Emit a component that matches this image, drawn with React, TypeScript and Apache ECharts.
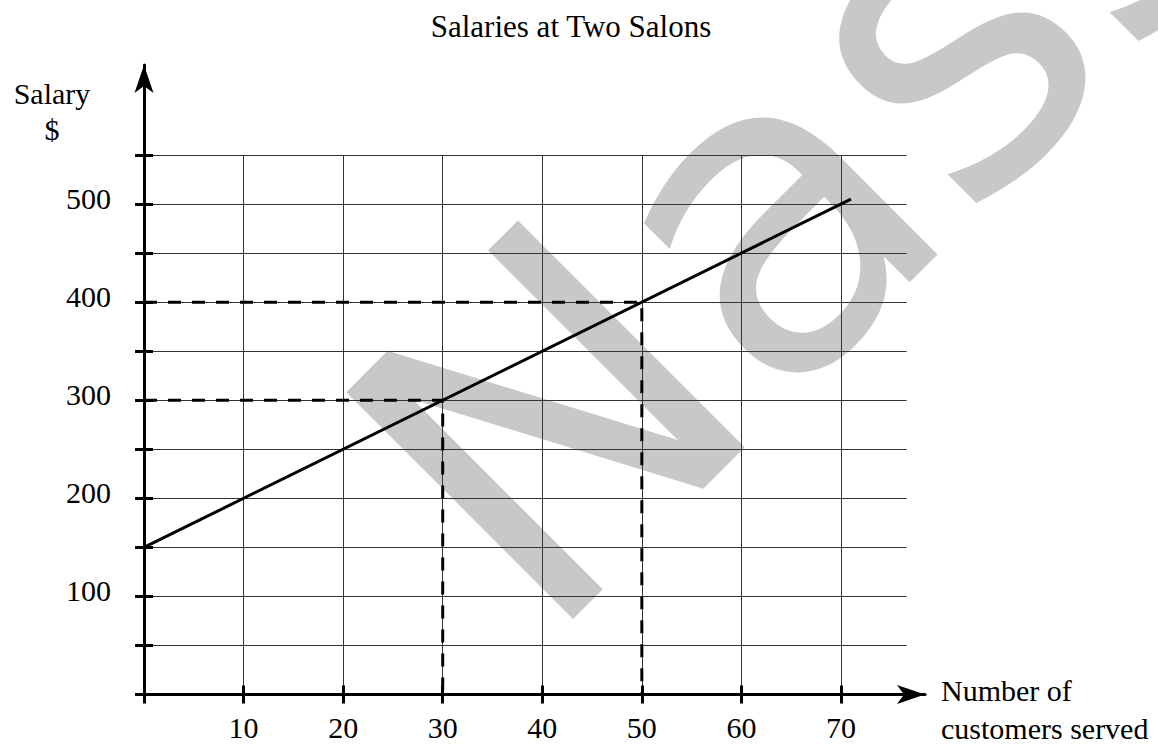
import React, { useEffect, useRef } from 'react';
import * as echarts from 'echarts';

const TITLE = 'Salaries at Two Salons';
const Y_NAME_LINES = ['Salary', '$'];
const X_NAME_LINES = ['Number of', 'customers served'];
const WATERMARK = 'Nass';

const X_MIN = 0;
const X_MAX = 76.6;
const X_INTERVAL = 10;
const Y_MIN = 0;
const Y_MAX = 550;
const Y_INTERVAL = 50;

const X_TICKS = [0, 10, 20, 30, 40, 50, 60, 70];
const X_LABELS = [10, 20, 30, 40, 50, 60, 70];
const Y_TICKS = [0, 50, 100, 150, 200, 250, 300, 350, 400, 450, 500, 550];
const Y_LABELS = [100, 200, 300, 400, 500];

const SALARY_LINE = [
  [0, 150],
  [71, 505],
];
const GUIDE_400 = [
  [0, 400],
  [50, 400],
  [50, 0],
];
const GUIDE_300 = [
  [0, 300],
  [30, 300],
  [30, 0],
];

const SERIF = "'Liberation Serif', 'Times New Roman', serif";
const WM_FONT = "'DejaVu Sans', Verdana, sans-serif";

export default function App() {
  const ref = useRef<HTMLDivElement>(null);

  useEffect(() => {
    if (!ref.current) return;
    const chart = echarts.init(ref.current, null, { renderer: 'svg' });
    const tickStyle = { color: '#000', width: 3 };
    const labelStyle = { fontFamily: SERIF, fontSize: 30, color: '#000' };

    chart.setOption({
      animation: false,
      backgroundColor: '#ffffff',
      graphic: [
        {
          type: 'text',
          z: -10,
          silent: true,
          x: 435,
          y: 542,
          rotation: Math.PI / 4,
          style: {
            text: WATERMARK,
            fontFamily: WM_FONT,
            fontSize: 440,
            fill: '#c8c8c8',
            align: 'left',
            verticalAlign: 'middle',
          },
        },
        {
          type: 'text',
          z: 10,
          x: 571,
          y: 26.5,
          style: { text: TITLE, fontFamily: SERIF, fontSize: 31, fill: '#000000', align: 'center', verticalAlign: 'middle' },
        },
        {
          type: 'text',
          z: 10,
          x: 52,
          y: 93,
          style: { text: Y_NAME_LINES[0], fontFamily: SERIF, fontSize: 30, fill: '#000000', align: 'center', verticalAlign: 'middle' },
        },
        {
          type: 'text',
          z: 10,
          x: 52,
          y: 129,
          style: { text: Y_NAME_LINES[1], fontFamily: SERIF, fontSize: 30, fill: '#000000', align: 'center', verticalAlign: 'middle' },
        },
        {
          type: 'text',
          z: 10,
          x: 941,
          y: 690,
          style: { text: X_NAME_LINES[0], fontFamily: SERIF, fontSize: 30, fill: '#000000', align: 'left', verticalAlign: 'middle' },
        },
        {
          type: 'text',
          z: 10,
          x: 941,
          y: 728,
          style: { text: X_NAME_LINES[1], fontFamily: SERIF, fontSize: 30, fill: '#000000', align: 'left', verticalAlign: 'middle' },
        },
      ],
      grid: [
        { left: 144, top: 155, width: 762.7, height: 539.5, outerBoundsMode: 'none', containLabel: false },
        { left: 144, top: 65, width: 781, height: 629.5, outerBoundsMode: 'none', containLabel: false },
      ],
      xAxis: [
        {
          gridIndex: 0,
          type: 'value',
          min: X_MIN,
          max: X_MAX,
          interval: X_INTERVAL,
          position: 'bottom',
          axisLine: { show: false, onZero: false },
          axisTick: { show: true, inside: true, length: 9, customValues: X_TICKS, lineStyle: tickStyle },
          axisLabel: { show: true, customValues: X_LABELS, margin: 18, ...labelStyle },
          splitLine: { show: true, lineStyle: { color: '#333', width: 1 } },
        },
        {
          gridIndex: 0,
          type: 'value',
          min: X_MIN,
          max: X_MAX,
          interval: X_INTERVAL,
          position: 'bottom',
          axisLine: { show: false, onZero: false },
          axisTick: { show: true, inside: false, length: 9, customValues: X_TICKS, lineStyle: tickStyle },
          axisLabel: { show: false },
          splitLine: { show: false },
        },
        {
          gridIndex: 1,
          type: 'value',
          min: 0,
          max: 1,
          position: 'bottom',
          axisLine: {
            show: true,
            onZero: false,
            symbol: ['none', 'arrow'],
            symbolSize: [14.25, 28],
            lineStyle: { color: '#000', width: 3 },
          },
          axisTick: { show: false },
          axisLabel: { show: false },
          splitLine: { show: false },
        },
      ],
      yAxis: [
        {
          gridIndex: 0,
          type: 'value',
          min: Y_MIN,
          max: Y_MAX,
          interval: Y_INTERVAL,
          position: 'left',
          axisLine: { show: false, onZero: false },
          axisTick: { show: true, inside: true, length: 9, customValues: Y_TICKS, lineStyle: tickStyle },
          axisLabel: {
            show: true,
            customValues: Y_LABELS,
            margin: 33,
            verticalAlign: 'bottom',
            lineHeight: 12,
            ...labelStyle,
          },
          splitLine: { show: true, lineStyle: { color: '#333', width: 1 } },
        },
        {
          gridIndex: 0,
          type: 'value',
          min: Y_MIN,
          max: Y_MAX,
          interval: Y_INTERVAL,
          position: 'left',
          axisLine: { show: false, onZero: false },
          axisTick: { show: true, inside: false, length: 9, customValues: Y_TICKS, lineStyle: tickStyle },
          axisLabel: { show: false },
          splitLine: { show: false },
        },
        {
          gridIndex: 1,
          type: 'value',
          min: 0,
          max: 1,
          position: 'left',
          axisLine: {
            show: true,
            onZero: false,
            symbol: ['none', 'arrow'],
            symbolSize: [14.25, 28],
            lineStyle: { color: '#000', width: 3 },
          },
          axisTick: { show: false },
          axisLabel: { show: false },
          splitLine: { show: false },
        },
      ],
      series: [
        {
          name: 'Salary',
          type: 'line',
          xAxisIndex: 0,
          yAxisIndex: 0,
          data: SALARY_LINE,
          symbol: 'none',
          showSymbol: false,
          lineStyle: { color: '#000', width: 3 },
          z: 6,
        },
        {
          name: 'Guide 400',
          type: 'line',
          xAxisIndex: 0,
          yAxisIndex: 0,
          data: GUIDE_400,
          symbol: 'none',
          showSymbol: false,
          lineStyle: { color: '#000', width: 3, type: [13, 11] },
          z: 5,
        },
        {
          name: 'Guide 300',
          type: 'line',
          xAxisIndex: 0,
          yAxisIndex: 0,
          data: GUIDE_300,
          symbol: 'none',
          showSymbol: false,
          lineStyle: { color: '#000', width: 3, type: [13, 11] },
          z: 5,
        },
      ],
    });

    return () => chart.dispose();
  }, []);

  return (
    <div
      ref={ref}
      style={{ position: 'fixed', left: 0, top: 0, width: 1158, height: 746, background: '#fff' }}
    />
  );
}
